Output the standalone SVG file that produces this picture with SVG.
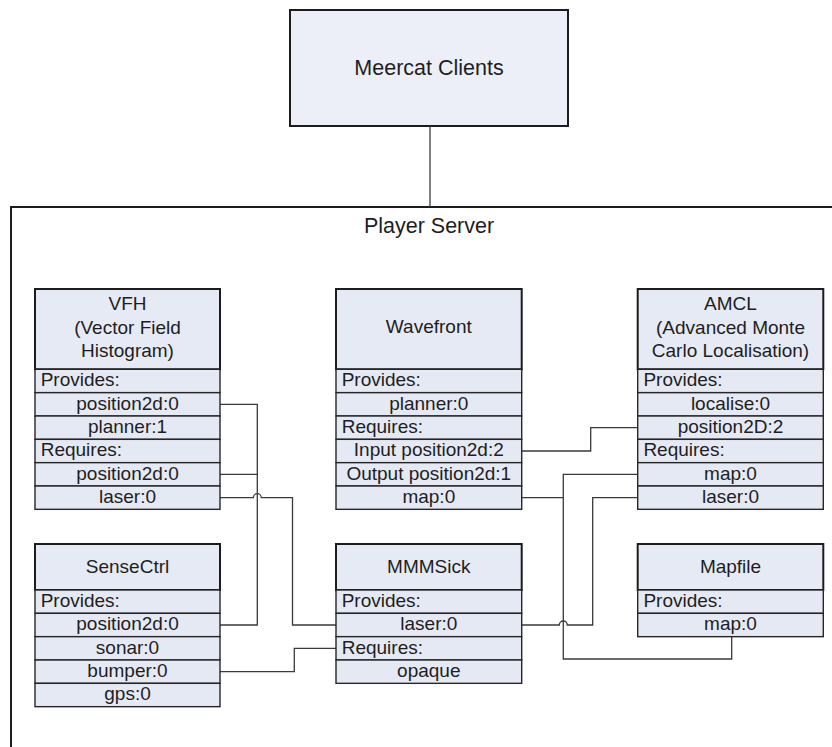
<svg xmlns="http://www.w3.org/2000/svg" width="832" height="747" viewBox="0 0 832 747">
<style>
.hd{fill:#e6eaf5;stroke:#1c1c1c;stroke-width:2}
.rw{fill:#e5e9f4;stroke:#262626;stroke-width:1.4}
.t{font-family:"Liberation Sans",Arial,sans-serif;font-size:19px;fill:#1e1e1e;text-anchor:middle}
.tl{font-family:"Liberation Sans",Arial,sans-serif;font-size:19px;fill:#1e1e1e}
.big{font-family:"Liberation Sans",Arial,sans-serif;font-size:21.5px;fill:#1e1e1e;text-anchor:middle}
.cn{fill:none;stroke:#3a3a3a;stroke-width:1.3}
</style>
<rect width="832" height="747" fill="#ffffff"/>

<g id="meercat">
<rect x="290" y="10" width="278" height="116" fill="#eceff8" stroke="#1c1c1c" stroke-width="2"/>
<text class="big" x="429" y="75">Meercat Clients</text>
</g>

<g id="player-server">
<rect x="11" y="207" width="900" height="600" fill="none" stroke="#1c1c1c" stroke-width="2"/>
<text class="big" x="429" y="233">Player Server</text>
</g>

<g id="connectors">
<path class="cn" d="M430,126 V207"/>
<path class="cn" d="M220,404.3 H257.3 V625 H220"/>
<path class="cn" d="M220,474.3 H257.3"/>
<path class="cn" d="M220,497.7 H253.3 a4,4 0 0 1 8,0 H292.5 V625 H336"/>
<path class="cn" d="M220,671.7 H294.3 V648.3 H336"/>
<path class="cn" d="M521.7,451 H590.7 V427.7 H637.7"/>
<path class="cn" d="M521.7,497.7 H563.3"/>
<path class="cn" d="M731.7,636.7 V659 H563.3 V474.3 H637.7"/>
<path class="cn" d="M637.7,497.7 H592.7 V625 H567.3 a4,4 0 0 0 -8,0 H521.7"/>
</g>

<g id="vfh">
<rect class="hd" x="35" y="289" width="185" height="80.3"/>
<text class="t" x="127.5" y="310">VFH</text>
<text class="t" x="127.5" y="333.5">(Vector Field</text>
<text class="t" x="127.5" y="357">Histogram)</text>
<rect class="rw" x="35" y="369.3" width="185" height="23.33"/>
<rect class="rw" x="35" y="392.67" width="185" height="23.33"/>
<rect class="rw" x="35" y="416" width="185" height="23.33"/>
<rect class="rw" x="35" y="439.33" width="185" height="23.33"/>
<rect class="rw" x="35" y="462.67" width="185" height="23.33"/>
<rect class="rw" x="35" y="486" width="185" height="23.33"/>
<text class="tl" x="40.7" y="386.3">Provides:</text>
<text class="t" x="127.5" y="409.7">position2d:0</text>
<text class="t" x="127.5" y="433">planner:1</text>
<text class="tl" x="40.7" y="456.3">Requires:</text>
<text class="t" x="127.5" y="479.7">position2d:0</text>
<text class="t" x="127.5" y="503">laser:0</text>
</g>

<g id="wavefront">
<rect class="hd" x="336" y="289" width="185.7" height="80.3"/>
<text class="t" x="428.8" y="333">Wavefront</text>
<rect class="rw" x="336" y="369.3" width="185.7" height="23.33"/>
<rect class="rw" x="336" y="392.67" width="185.7" height="23.33"/>
<rect class="rw" x="336" y="416" width="185.7" height="23.33"/>
<rect class="rw" x="336" y="439.33" width="185.7" height="23.33"/>
<rect class="rw" x="336" y="462.67" width="185.7" height="23.33"/>
<rect class="rw" x="336" y="486" width="185.7" height="23.33"/>
<text class="tl" x="341.7" y="386.3">Provides:</text>
<text class="t" x="428.8" y="409.7">planner:0</text>
<text class="tl" x="341.7" y="433">Requires:</text>
<text class="t" x="428.8" y="456.3">Input position2d:2</text>
<text class="t" x="428.8" y="479.7">Output position2d:1</text>
<text class="t" x="428.8" y="503">map:0</text>
</g>

<g id="amcl">
<rect class="hd" x="637.7" y="289" width="185.6" height="80.3"/>
<text class="t" x="730.5" y="310">AMCL</text>
<text class="t" x="730.5" y="333.5">(Advanced Monte</text>
<text class="t" x="730.5" y="357">Carlo Localisation)</text>
<rect class="rw" x="637.7" y="369.3" width="185.6" height="23.33"/>
<rect class="rw" x="637.7" y="392.67" width="185.6" height="23.33"/>
<rect class="rw" x="637.7" y="416" width="185.6" height="23.33"/>
<rect class="rw" x="637.7" y="439.33" width="185.6" height="23.33"/>
<rect class="rw" x="637.7" y="462.67" width="185.6" height="23.33"/>
<rect class="rw" x="637.7" y="486" width="185.6" height="23.33"/>
<text class="tl" x="643.4" y="386.3">Provides:</text>
<text class="t" x="730.5" y="409.7">localise:0</text>
<text class="t" x="730.5" y="433">position2D:2</text>
<text class="tl" x="643.4" y="456.3">Requires:</text>
<text class="t" x="730.5" y="479.7">map:0</text>
<text class="t" x="730.5" y="503">laser:0</text>
</g>

<g id="sensectrl">
<rect class="hd" x="35" y="544" width="185" height="46"/>
<text class="t" x="127.5" y="572.7">SenseCtrl</text>
<rect class="rw" x="35" y="590" width="185" height="23.33"/>
<rect class="rw" x="35" y="613.33" width="185" height="23.33"/>
<rect class="rw" x="35" y="636.67" width="185" height="23.33"/>
<rect class="rw" x="35" y="660" width="185" height="23.33"/>
<rect class="rw" x="35" y="683.33" width="185" height="23.33"/>
<text class="tl" x="40.7" y="607">Provides:</text>
<text class="t" x="127.5" y="630.3">position2d:0</text>
<text class="t" x="127.5" y="653.7">sonar:0</text>
<text class="t" x="127.5" y="677">bumper:0</text>
<text class="t" x="127.5" y="700.3">gps:0</text>
</g>

<g id="mmmsick">
<rect class="hd" x="336" y="544" width="185.7" height="46"/>
<text class="t" x="428.8" y="572.7">MMMSick</text>
<rect class="rw" x="336" y="590" width="185.7" height="23.33"/>
<rect class="rw" x="336" y="613.33" width="185.7" height="23.33"/>
<rect class="rw" x="336" y="636.67" width="185.7" height="23.33"/>
<rect class="rw" x="336" y="660" width="185.7" height="23.33"/>
<text class="tl" x="341.7" y="607">Provides:</text>
<text class="t" x="428.8" y="630.3">laser:0</text>
<text class="tl" x="341.7" y="653.7">Requires:</text>
<text class="t" x="428.8" y="677">opaque</text>
</g>

<g id="mapfile">
<rect class="hd" x="637.7" y="544" width="185.6" height="46"/>
<text class="t" x="730.5" y="572.7">Mapfile</text>
<rect class="rw" x="637.7" y="590" width="185.6" height="23.33"/>
<rect class="rw" x="637.7" y="613.33" width="185.6" height="23.33"/>
<text class="tl" x="643.4" y="607">Provides:</text>
<text class="t" x="730.5" y="630.3">map:0</text>
</g>
</svg>
